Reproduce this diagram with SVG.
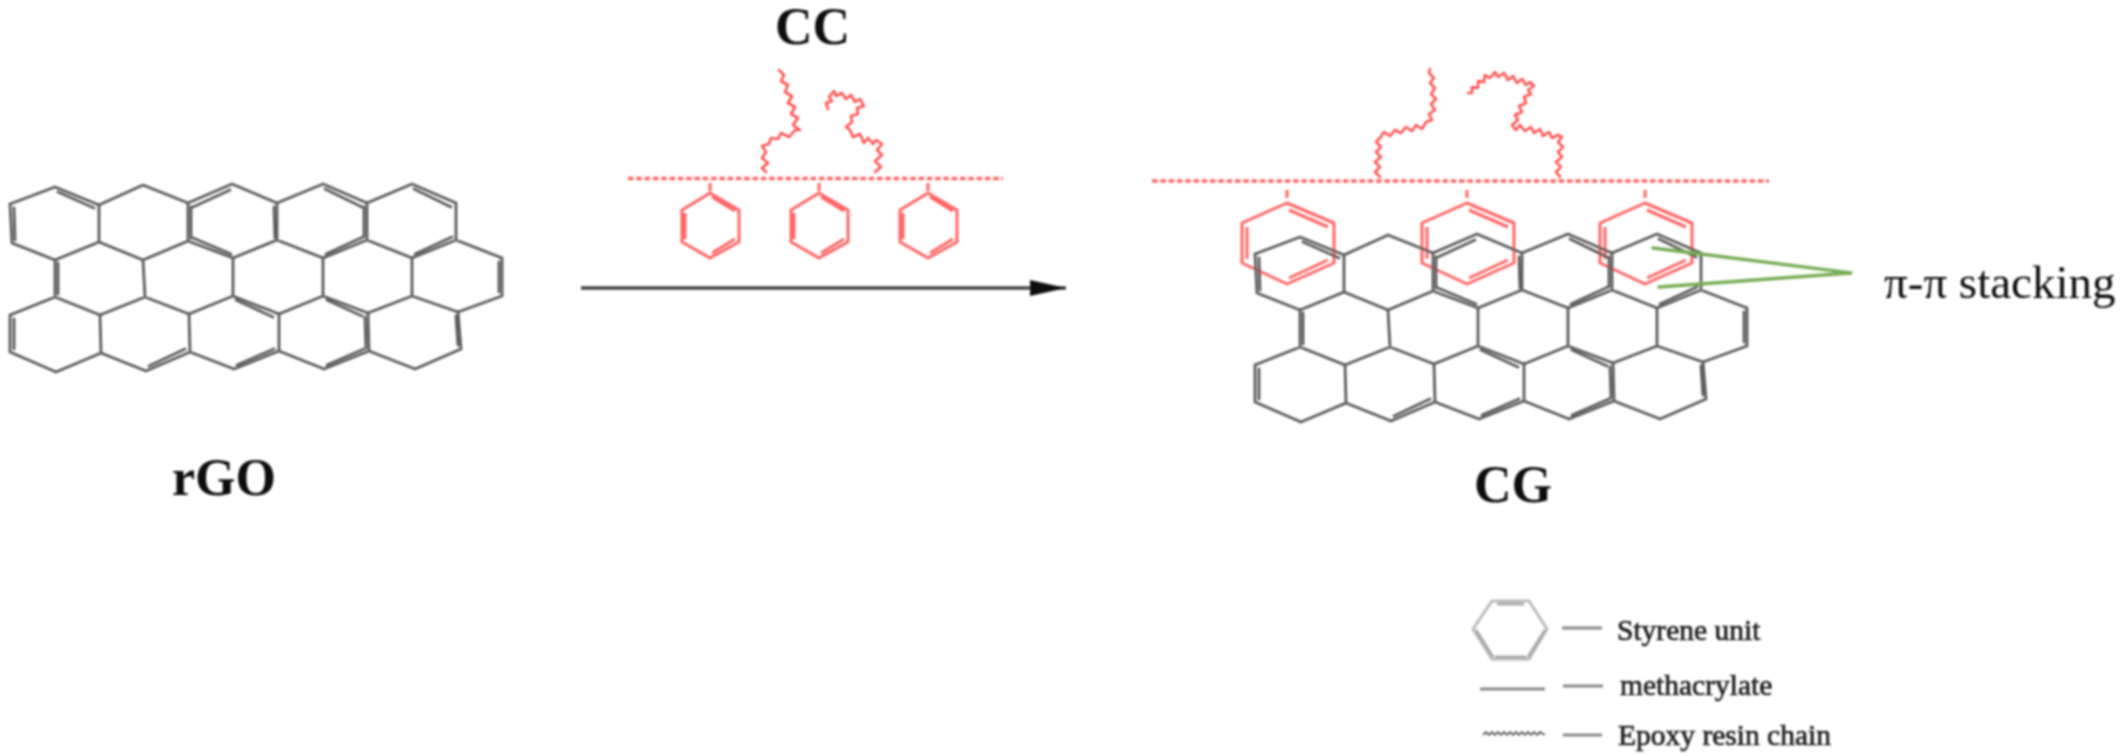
<svg xmlns="http://www.w3.org/2000/svg" xmlns:xlink="http://www.w3.org/1999/xlink" width="2128" height="756" viewBox="0 0 2128 756">
<style>
text{font-family:"Liberation Serif","Times New Roman",serif;fill:#111}
.t{font-weight:bold;font-size:52px}
.lg{font-size:29.5px;fill:#222;stroke:#222;stroke-width:.7}
.lat{fill:none;stroke:#5c5c5c;stroke-width:2.8;stroke-linejoin:round;stroke-linecap:round}
.red{fill:none;stroke:#f66;stroke-width:3;stroke-linejoin:round}
.dot{fill:none;stroke:#f66;stroke-width:3.6;stroke-dasharray:5.5 2.8}
.chain{fill:none;stroke:#f55;stroke-width:2.6;stroke-linejoin:round;stroke-linecap:round}
.grn{fill:none;stroke:#76ad55;stroke-width:3.4;stroke-linecap:round}
.lgl{fill:none;stroke:#888;stroke-width:2.8}
</style>
<defs>
<filter id="b" x="-5%" y="-5%" width="110%" height="110%"><feGaussianBlur stdDeviation="1.3"/></filter>
<marker id="ah" markerUnits="userSpaceOnUse" markerWidth="38" markerHeight="20" refX="36" refY="10" orient="auto"><path d="M0 2 L36 10 L0 18 Z" fill="#111"/></marker>
<g id="lattice" class="lat">
<path d="M10 204L55 187L99 205L143 185L188 203L232 184L277 203L323 184L367 203L412 184L456 203M10 204L12 243M99 205V242M188 203V241M277 203V240M367 203V240M456 203V240M12 243L55 260L99 242L143 260L188 241L233 258L277 240L323 258L367 240L412 258L456 240L502 258M55 260V297M143 260L145 297M233 258V296M323 258V296M412 258V296M502 258V296M10 315L55 297L100 315L145 297L189 314L233 296L279 314L323 296L368 313L412 296L458 312L502 296M10 315V352M100 315L101 353M189 314L190 352M279 314V351M368 313L369 351M458 312L461 349M10 352L56 372L101 353L146 371L190 352L234 369L279 351L324 369L369 351L415 369L461 349"/>
<path d="M58 192L94 208M14 208L15 240M193 207L230 190M191 207V238M274 207L275 238M325 189L362 207M364 207V237M414 189L451 207M193 238L231 254M326 254L363 237M415 254L452 237M58 263V294M499 262V292M236 300L273 317M327 300L362 316M14 319V349M365 317L366 348M456 316L458 345M149 366L185 349M237 365L274 349M327 365L364 349"/>
</g>
<path id="ringS" class="red" d="M0 0L29 17V49L0 65L-28 49V17ZM2 4L25 18M25 46L2 60M-25 20V46"/>
<path id="ringL" class="red" d="M0 0L47 20V60L0 81L-45 60V20ZM2 7L41 24M41 57L2 75M-40 24V56"/>
</defs>
<g filter="url(#b)">
<g id="rGO">
<use href="#lattice" xlink:href="#lattice"/>
<text class="t" x="172" y="495">rGO</text>
</g>
<g id="CC">
<text class="t" x="775" y="44">CC</text>
<line class="dot" x1="628" y1="178.500" x2="1003" y2="178.500"/>
<path class="red" d="M710 183V191M819 183V191M928 183V191"/>
<use href="#ringS" xlink:href="#ringS" x="710" y="193"/>
<use href="#ringS" xlink:href="#ringS" x="819" y="193"/>
<use href="#ringS" xlink:href="#ringS" x="928" y="193"/>
<path class="chain" d="M766 172L762 168L768 163L762 158L766 152L762 146L769 144L771 138L778 139L781 133L789 137L795 130L800 130L793 125L798 118L791 114L795 107L788 103L792 96L785 92L788 85L781 81L784 75L779 70"/>
<path class="chain" d="M875 172L881 167L875 161L882 155L877 150L882 144L876 140L873 144L868 138L864 143L860 134L853 137L850 130L846 127L852 122L851 116L858 114L857 108L864 106L860 99L855 102L851 95L846 99L842 93L836 96L834 91L829 97L832 101L826 103L828 109"/>
</g>
<g id="CG">
<line class="dot" x1="1152" y1="181" x2="1769" y2="181"/>
<path class="red" d="M1287 190V198M1467 190V198M1645 190V198"/>
<use href="#ringL" xlink:href="#ringL" x="1287" y="203"/>
<use href="#ringL" xlink:href="#ringL" x="1467" y="203"/>
<use href="#ringL" xlink:href="#ringL" x="1645" y="203"/>
<path class="chain" d="M1380 177L1375 172L1380 167L1375 162L1381 157L1376 152L1381 147L1376 142L1380 138L1384 132L1390 136L1395 130L1401 133L1406 127L1412 131L1416 125L1422 129L1426 122L1432 120L1429 114L1435 110L1431 104L1436 99L1431 94L1435 88L1430 83L1434 78L1429 73L1430 69"/>
<path class="chain" d="M1560 177L1556 172L1561 167L1556 162L1562 157L1558 152L1563 147L1558 142L1562 137L1558 135L1552 138L1549 132L1543 136L1540 129L1534 133L1531 127L1525 131L1520 125L1516 130L1512 125L1518 120L1515 115L1522 112L1519 106L1526 103L1524 97L1531 94L1528 90L1534 86L1530 82L1526 85L1522 79L1517 83L1513 76L1508 80L1504 73L1498 77L1495 72L1490 78L1485 75L1484 82L1478 81L1478 88L1472 87L1472 93L1468 93"/>
<use href="#lattice" xlink:href="#lattice" transform="translate(1245 50)"/>
<text class="t" x="1474" y="502">CG</text>
</g>
<g id="stacking">
<path class="grn" d="M1653 248L1852 273L1659 287"/>
<text x="1884" y="298" font-size="47">π-π stacking</text>
</g>
<g id="connectors">
<line x1="581" y1="288" x2="1066" y2="288" stroke="#444" stroke-width="3.400" marker-end="url(#ah)"/>
</g>
<g id="legend-styrene">
<path d="M1492 601H1529L1547 629L1529 659H1492L1473 629Z" fill="none" stroke="#bbb" stroke-width="3"/>
<path d="M1497 604H1524M1495 657H1526M1476 630L1493 657M1545 630L1528 657" fill="none" stroke="#aaa" stroke-width="3"/>
<line class="lgl" x1="1562" y1="628" x2="1602" y2="628"/>
<text class="lg" x="1617" y="640">Styrene unit</text>
</g>
<g id="legend-methacrylate">
<line class="lgl" x1="1480" y1="689" x2="1545" y2="689"/>
<line class="lgl" x1="1563" y1="686" x2="1603" y2="686"/>
<text class="lg" x="1620" y="695">methacrylate</text>
</g>
<g id="legend-epoxy">
<path d="M1483 735L1486 732L1489 735L1492 732L1495 735L1498 732L1501 735L1504 732L1507 735L1510 732L1513 735L1516 732L1519 735L1522 732L1525 735L1528 732L1531 735L1534 732L1537 735L1540 732L1545 735" fill="none" stroke="#666" stroke-width="1.800"/>
<line class="lgl" x1="1563" y1="735" x2="1602" y2="735"/>
<text class="lg" x="1618" y="745">Epoxy resin chain</text>
</g>
</g>
</svg>
